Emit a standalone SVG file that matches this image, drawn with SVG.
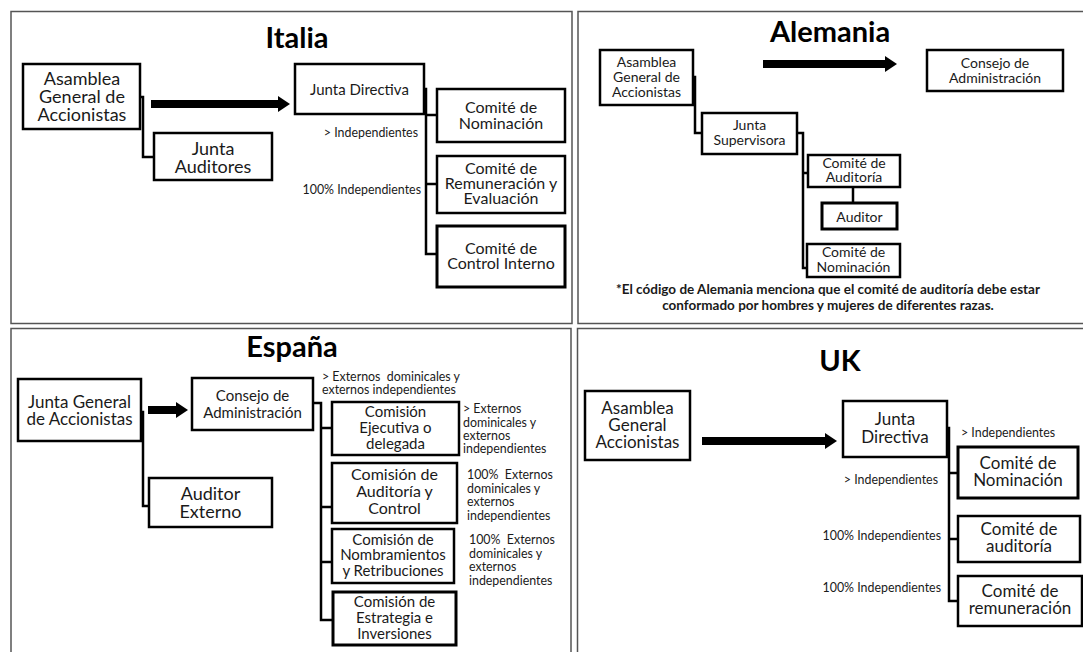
<svg xmlns="http://www.w3.org/2000/svg" width="1083" height="652" viewBox="0 0 1083 652">
<style>
.panel{fill:none;stroke:#555;stroke-width:1.5}
.box{fill:#fff;stroke:#000;stroke-width:2.5}
.box3{fill:#fff;stroke:#000;stroke-width:3}
.c{fill:none;stroke:#000;stroke-width:2.5}
.arr{stroke:#000;stroke-width:8}
text{font-family:Lato,"Liberation Sans",sans-serif;fill:#1a1a1a;white-space:pre}
.t{font-size:15px;text-anchor:middle}
.t16{font-size:16px;text-anchor:middle}
.t14{font-size:14px;text-anchor:middle}
.t17{font-size:17px;text-anchor:middle}
.t18{font-size:18px;text-anchor:middle}
.lbl{font-size:12.4px}
.r{text-anchor:end}
.title{font-size:29px;font-weight:bold;text-anchor:middle;fill:#000}
.note{font-size:13.5px;font-weight:bold;text-anchor:middle}
</style>
<defs>
<marker id="ah" viewBox="0 0 12 16" markerWidth="12" markerHeight="16" refX="0" refY="8" markerUnits="userSpaceOnUse" orient="auto">
<path d="M0,0 L12,8 L0,16 z" fill="#000"/>
</marker>
</defs>
<rect width="1083" height="652" fill="#fff"/>
<g id="panels">
<rect class="panel" x="11" y="11.5" width="561" height="312"/>
<rect class="panel" x="578" y="11.5" width="510" height="312"/>
<rect class="panel" x="11" y="328.5" width="560" height="330"/>
<rect class="panel" x="577.5" y="328.5" width="510" height="330"/>
</g>
<g id="titles">
<text class="title" x="297" y="48">Italia</text>
<text class="title" x="830" y="42">Alemania</text>
<text class="title" x="292" y="357">España</text>
<text class="title" x="840" y="371">UK</text>
</g>
<g id="connectors">
<path class="c" d="M140,97 H143 V157 H155"/>
<line class="arr" x1="151" y1="104" x2="278" y2="104" marker-end="url(#ah)"/>
<path class="c" d="M424,89 H426 V254 H437 M426,115 H437 M426,184 H437"/>
<line class="arr" x1="763" y1="64" x2="885" y2="64" marker-end="url(#ah)"/>
<path class="c" d="M693,77 H695 V133 H702"/>
<path class="c" d="M797,133 H803 V268 H808 M803,173 H808"/>
<line class="c" x1="853" y1="187" x2="853" y2="203"/>
<path class="c" d="M141,412 H143 V506 H150"/>
<line class="arr" x1="148" y1="410" x2="176" y2="410" marker-end="url(#ah)"/>
<path class="c" d="M313,403 H321 V620 H333 M321,428 H332 M321,507 H332 M321,562 H332"/>
<line class="arr" x1="702" y1="441" x2="825" y2="441" marker-end="url(#ah)"/>
<path class="c" d="M947,428 H949 V601 H958 M949,473 H958 M949,539 H958"/>
</g>
<g id="it-asamblea">
<rect class="box" x="23" y="64" width="117" height="65"/>
<text class="t18" x="82" y="85">Asamblea</text>
<text class="t18" x="82" y="103">General de</text>
<text class="t18" x="82" y="121">Accionistas</text>
</g>
<g id="it-auditores">
<rect class="box" x="154" y="133" width="118" height="47"/>
<text class="t18" x="213" y="155">Junta</text>
<text class="t18" x="213" y="173">Auditores</text>
</g>
<g id="it-junta">
<rect class="box" x="295" y="64" width="129" height="50"/>
<text class="t" x="359.5" y="95">Junta Directiva</text>
</g>
<g id="it-nominacion">
<rect class="box" x="437" y="89" width="128" height="53"/>
<text class="t16" x="501" y="113">Comité de</text>
<text class="t16" x="501" y="129">Nominación</text>
</g>
<g id="it-remuneracion">
<rect class="box" x="437" y="156" width="128" height="57"/>
<text class="t16" x="501" y="174">Comité de</text>
<text class="t16" x="501" y="189">Remuneración y</text>
<text class="t16" x="501" y="204">Evaluación</text>
</g>
<g id="it-control">
<rect class="box3" x="437" y="226" width="128" height="61"/>
<text class="t16" x="501" y="254">Comité de</text>
<text class="t16" x="501" y="269">Control Interno</text>
</g>
<g id="it-labels">
<text class="lbl r" x="418" y="137">&gt; Independientes</text>
<text class="lbl r" x="421" y="194">100% Independientes</text>
</g>
<g id="de-asamblea">
<rect class="box" x="600" y="50" width="93" height="55"/>
<text class="t14" x="646.5" y="67">Asamblea</text>
<text class="t14" x="646.5" y="82">General de</text>
<text class="t14" x="646.5" y="97">Accionistas</text>
</g>
<g id="de-consejo">
<rect class="box" x="927" y="50" width="136" height="41"/>
<text class="t14" x="995" y="68">Consejo de</text>
<text class="t14" x="995" y="83">Administración</text>
</g>
<g id="de-supervisora">
<rect class="box" x="702" y="113" width="95" height="41"/>
<text class="t14" x="749.5" y="130">Junta</text>
<text class="t14" x="749.5" y="145">Supervisora</text>
</g>
<g id="de-auditoria">
<rect class="box" x="808" y="155" width="92" height="32"/>
<text class="t14" x="854" y="168">Comité de</text>
<text class="t14" x="854" y="182">Auditoría</text>
</g>
<g id="de-auditor">
<rect class="box3" x="822" y="203" width="75" height="26"/>
<text class="t14" x="859.5" y="222">Auditor</text>
</g>
<g id="de-nominacion">
<rect class="box" x="807" y="244" width="93" height="33"/>
<text class="t14" x="853.5" y="257">Comité de</text>
<text class="t14" x="853.5" y="272">Nominación</text>
</g>
<g id="de-note">
<text class="note" x="828" y="294">*El código de Alemania menciona que el comité de auditoría debe estar</text>
<text class="note" x="828" y="310">conformado por hombres y mujeres de diferentes razas.</text>
</g>
<g id="es-junta">
<rect class="box" x="18" y="379" width="123" height="62"/>
<text class="t17" x="79.5" y="408">Junta General</text>
<text class="t17" x="79.5" y="425">de Accionistas</text>
</g>
<g id="es-auditor">
<rect class="box" x="149" y="478" width="123" height="49"/>
<text class="t18" x="210.5" y="500">Auditor</text>
<text class="t18" x="210.5" y="518">Externo</text>
</g>
<g id="es-consejo">
<rect class="box" x="192" y="378" width="121" height="52"/>
<text class="t" x="252.5" y="401">Consejo de</text>
<text class="t" x="252.5" y="418">Administración</text>
</g>
<g id="es-ejecutiva">
<rect class="box" x="332" y="402" width="127" height="53"/>
<text class="t" x="395.5" y="417">Comisión</text>
<text class="t" x="395.5" y="433">Ejecutiva o</text>
<text class="t" x="395.5" y="449">delegada</text>
</g>
<g id="es-auditoria">
<rect class="box" x="332" y="463" width="125" height="60"/>
<text class="t16" x="394.5" y="480">Comisión de</text>
<text class="t16" x="394.5" y="497">Auditoría y</text>
<text class="t16" x="394.5" y="514">Control</text>
</g>
<g id="es-nombramientos">
<rect class="box" x="332" y="529" width="122" height="54"/>
<text class="t" x="393" y="545">Comisión de</text>
<text class="t" x="393" y="560">Nombramientos</text>
<text class="t" x="393" y="576">y Retribuciones</text>
</g>
<g id="es-estrategia">
<rect class="box3" x="333" y="592" width="123" height="53"/>
<text class="t" x="394.5" y="607">Comisión de</text>
<text class="t" x="394.5" y="623">Estrategia e</text>
<text class="t" x="394.5" y="639">Inversiones</text>
</g>
<g id="es-labels">
<text class="lbl" x="322" y="381">&gt; Externos  dominicales y</text>
<text class="lbl" x="322" y="394">externos independientes</text>
<text class="lbl" x="463" y="413">&gt; Externos</text>
<text class="lbl" x="463" y="427">dominicales y</text>
<text class="lbl" x="463" y="440">externos</text>
<text class="lbl" x="463" y="453">independientes</text>
<text class="lbl" x="467" y="479">100%  Externos</text>
<text class="lbl" x="467" y="493">dominicales y</text>
<text class="lbl" x="467" y="506">externos</text>
<text class="lbl" x="467" y="520">independientes</text>
<text class="lbl" x="469" y="544">100%  Externos</text>
<text class="lbl" x="469" y="558">dominicales y</text>
<text class="lbl" x="469" y="571">externos</text>
<text class="lbl" x="469" y="585">independientes</text>
</g>
<g id="uk-asamblea">
<rect class="box" x="585" y="391" width="105" height="69"/>
<text class="t17" x="637.5" y="414">Asamblea</text>
<text class="t17" x="637.5" y="431">General</text>
<text class="t17" x="637.5" y="448">Accionistas</text>
</g>
<g id="uk-junta">
<rect class="box" x="843" y="401" width="104" height="56"/>
<text class="t17" x="895" y="425">Junta</text>
<text class="t17" x="895" y="443">Directiva</text>
</g>
<g id="uk-nominacion">
<rect class="box3" x="958" y="447" width="120" height="51"/>
<text class="t17" x="1018" y="469">Comité de</text>
<text class="t17" x="1018" y="486">Nominación</text>
</g>
<g id="uk-auditoria">
<rect class="box" x="958" y="516" width="122" height="46"/>
<text class="t17" x="1019" y="535">Comité de</text>
<text class="t17" x="1019" y="552">auditoría</text>
</g>
<g id="uk-remuneracion">
<rect class="box" x="958" y="576" width="124" height="50"/>
<text class="t17" x="1020" y="597">Comité de</text>
<text class="t17" x="1020" y="614">remuneración</text>
</g>
<g id="uk-labels">
<text class="lbl" x="961" y="437">&gt; Independientes</text>
<text class="lbl r" x="938" y="484">&gt; Independientes</text>
<text class="lbl r" x="941" y="540">100% Independientes</text>
<text class="lbl r" x="941" y="592">100% Independientes</text>
</g>
</svg>
